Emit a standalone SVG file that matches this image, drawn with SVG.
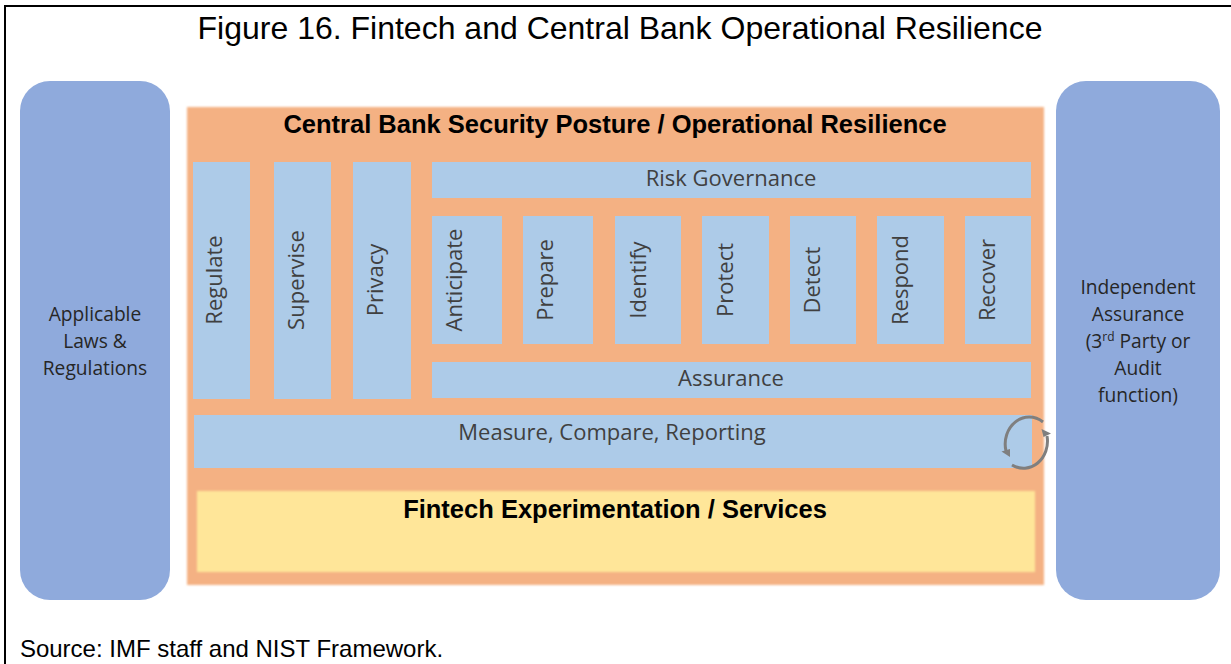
<svg xmlns="http://www.w3.org/2000/svg" width="1231" height="664" viewBox="0 0 1231 664">
<style>
text{font-family:"Open Sans","Noto Sans",sans-serif;fill:#404040;font-size:22px;text-anchor:middle}
.t{font-family:"Liberation Sans",Arial,sans-serif;fill:#000}
.b{font-family:"Liberation Sans",Arial,sans-serif;fill:#000;font-weight:bold;font-size:25.5px}
.side{fill:#8faadc}
.box{fill:#adcbe8;filter:url(#soft2)}
.side-t{font-size:19.2px;fill:#262626}
.ar{fill:none;stroke:#7f7f7f;stroke-width:3}
.head{fill:#7f7f7f}
</style>
<defs>
<filter id="soft" x="-2%" y="-2%" width="104%" height="104%"><feGaussianBlur stdDeviation="1"/></filter>
<filter id="soft2" x="-5%" y="-5%" width="110%" height="110%"><feGaussianBlur stdDeviation="0.6"/></filter>
</defs>
<rect width="1231" height="664" fill="#fff"/>
<path d="M5 664V6H1231" stroke="#000" stroke-width="2" fill="none"/>
<text class="t" x="620" y="39" style="font-size:32px">Figure 16. Fintech and Central Bank Operational Resilience</text>
<text class="t" x="231.500" y="657" style="font-size:24px">Source: IMF staff and NIST Framework.</text>
<g id="laws"><rect class="side" x="20" y="81" width="150" height="519" rx="30"/>
<text class="side-t" x="95" y="321">Applicable</text><text class="side-t" x="95" y="348">Laws &amp;</text><text class="side-t" x="95" y="375">Regulations</text></g>
<g id="assurance-side"><rect class="side" x="1056" y="81" width="164" height="519" rx="30"/>
<text class="side-t" x="1138" y="294">Independent</text><text class="side-t" x="1138" y="321">Assurance</text>
<text class="side-t" x="1138" y="348">(3<tspan font-size="12" dy="-7">rd</tspan><tspan dy="7"> Party or</tspan></text>
<text class="side-t" x="1138" y="375">Audit</text><text class="side-t" x="1138" y="402">function)</text></g>
<g id="posture"><rect x="187" y="107" width="857" height="478" fill="#f4b183" filter="url(#soft)"/>
<text class="b" x="615" y="133">Central Bank Security Posture / Operational Resilience</text></g>
<g id="regulate"><rect class="box" x="193" y="162" width="57" height="237"/><text transform="translate(222 280) rotate(-90)">Regulate</text></g>
<g id="supervise"><rect class="box" x="274" y="162" width="57" height="237"/><text transform="translate(304 280) rotate(-90)">Supervise</text></g>
<g id="privacy"><rect class="box" x="353" y="162" width="58" height="237"/><text transform="translate(383 280) rotate(-90)">Privacy</text></g>
<g id="risk"><rect class="box" x="432" y="162" width="599" height="36"/><text x="731" y="186">Risk Governance</text></g>
<g id="anticipate"><rect class="box" x="432" y="216" width="70" height="128"/><text transform="translate(462 280) rotate(-90)">Anticipate</text></g>
<g id="prepare"><rect class="box" x="523" y="216" width="70" height="128"/><text transform="translate(553 280) rotate(-90)">Prepare</text></g>
<g id="identify"><rect class="box" x="615" y="216" width="66" height="128"/><text transform="translate(646 280) rotate(-90)">Identify</text></g>
<g id="protect"><rect class="box" x="702" y="216" width="67" height="128"/><text transform="translate(733 280) rotate(-90)">Protect</text></g>
<g id="detect"><rect class="box" x="790" y="216" width="66" height="128"/><text transform="translate(820 280) rotate(-90)">Detect</text></g>
<g id="respond"><rect class="box" x="877" y="216" width="67" height="128"/><text transform="translate(908 280) rotate(-90)">Respond</text></g>
<g id="recover"><rect class="box" x="965" y="216" width="66" height="128"/><text transform="translate(995 280) rotate(-90)">Recover</text></g>
<g id="assurance"><rect class="box" x="432" y="362" width="599" height="36"/><text x="731" y="386">Assurance</text></g>
<g id="measure"><rect class="box" x="194" y="415" width="838" height="53"/><text x="612" y="440">Measure, Compare, Reporting</text></g>
<g id="fintech"><rect x="197" y="491" width="838" height="81" fill="#ffe699" filter="url(#soft)"/>
<text class="b" x="615" y="518">Fintech Experimentation / Services</text></g>
<g id="connectors">
<path class="ar" d="M1043 422A24 27 0 0 0 1006 451"/>
<path class="head" d="M1001.500 451.500L1010 449L1010 457Z"/>
<path class="ar" d="M1012 465A24 27 0 0 0 1047 436"/>
<path class="head" d="M1041.500 429L1051 433.500L1043.500 437Z"/>
</g>
</svg>
